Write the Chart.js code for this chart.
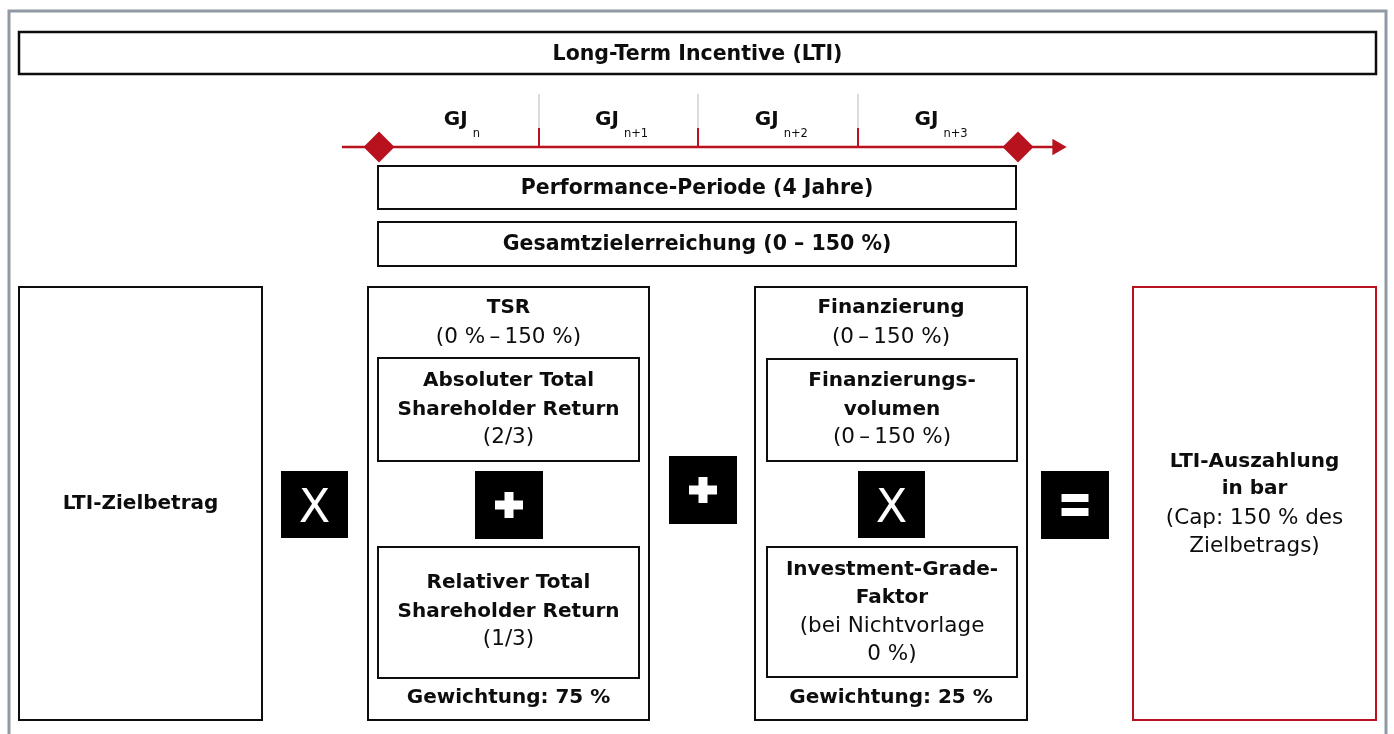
<!DOCTYPE html>
<html><head><meta charset="utf-8">
<script src="https://cdn.jsdelivr.net/npm/chart.js@4.4.1/dist/chart.umd.min.js"></script>
<style>html,body{margin:0;padding:0;background:#fff;overflow:hidden}canvas{display:block}</style>
</head><body><canvas id="c" width="1394" height="734"></canvas>
<script>
// ---------- content (data) ----------
const headerTitle = 'Long-Term Incentive (LTI)';
const yearPrefix = 'GJ';
const yearSubscripts = ['n', 'n+1', 'n+2', 'n+3'];
const periodMarkers = [0, 4];          // start / end of the 4-year period (years)
const yearBoundaries = [1, 2, 3];      // boundaries between fiscal years
const yearLabelCenters = [0.5, 1.5, 2.5, 3.5];
const periodLabel = 'Performance-Periode (4 Jahre)';
const achievementLabel = 'Gesamtzielerreichung (0 – 150 %)';
const targetLabel = ['LTI-Zielbetrag'];
const tsrHeading = ['TSR'];
const tsrRange = ['(0 %\u2009–\u2009150 %)'];
const tsrAbsolute = ['Absoluter Total', 'Shareholder Return'];
const tsrAbsoluteShare = ['(2/3)'];
const tsrRelative = ['Relativer Total', 'Shareholder Return'];
const tsrRelativeShare = ['(1/3)'];
const tsrWeight = ['Gewichtung: 75 %'];
const finHeading = ['Finanzierung'];
const finRange = ['(0\u2009–\u2009150 %)'];
const finVolume = ['Finanzierungs-', 'volumen'];
const finVolumeRange = ['(0\u2009–\u2009150 %)'];
const finFactor = ['Investment-Grade-', 'Faktor'];
const finFactorNote = ['(bei Nichtvorlage', '0 %)'];
const finWeight = ['Gewichtung: 25 %'];
const payoutLabel = ['LTI-Auszahlung', 'in bar'];
const payoutNote = ['(Cap: 150 % des', 'Zielbetrags)'];
const operatorKinds = ['times', 'plus', 'plus', 'times', 'equals'];

// ---------- layout & style (diagram units) ----------
const RED = '#b8121f', BLACK = '#0d0d0d', GRAY = '#8f9aa4', LIGHT = '#d6dde2';
const FONT = '"DejaVu Sans", sans-serif';
const YEAR_PX = 159.75, YEAR_ORIGIN = 379;
const LAYOUT = {
  frame: [9, 11, 1386, 800],
  header: { box: [19, 32, 1376, 74], base: [60] },
  timeline: { y: 147, lineFrom: -0.232, arrowAt: 4.245, tickTop: 94, tickMid: 128, labelBase: 125, subBase: 136.5 },
  period: { box: [378, 166, 1016, 209], base: [194] },
  achieve: { box: [378, 222, 1016, 266], base: [250] },
  target: { box: [19, 287, 262, 720], base: [509] },
  tsr: { box: [368, 287, 649, 720], head: [313], range: [343], weight: [703] },
  abs: { box: [378, 358, 639, 461], title: [386, 415], sub: [443] },
  rel: { box: [378, 547, 639, 678], title: [588, 617], sub: [645] },
  fin: { box: [755, 287, 1027, 720], head: [313], range: [343], weight: [703] },
  vol: { box: [767, 359, 1017, 461], title: [386, 415], sub: [443] },
  fac: { box: [767, 547, 1017, 677], title: [575, 603], sub: [632, 660] },
  payout: { box: [1133, 287, 1376, 720], title: [467, 494], sub: [524, 552] },
  ops: [[281, 471, 348, 538], [475, 471, 543, 539], [669, 456, 737, 524], [858, 471, 925, 538], [1041, 471, 1109, 539]]
};

const diagramPlugin = {
  id: 'diagram',
  beforeDatasetsDraw(chart) {
    const c = chart.ctx, sx = chart.scales.x, sy = chart.scales.y, sYr = chart.scales.xYear;
    const X = v => sx.getPixelForValue(v), Y = v => sy.getPixelForValue(v);
    c.save();
    c.fillStyle = '#fff';
    c.fillRect(0, 0, chart.width, chart.height);
    // outer frame
    const f = LAYOUT.frame;
    c.strokeStyle = GRAY; c.lineWidth = 3;
    c.strokeRect(X(f[0]), Y(f[1]), X(f[2]) - X(f[0]), Y(f[3]) - Y(f[1]));
    // year boundary ticks
    const t = LAYOUT.timeline;
    c.lineWidth = 2;
    yearBoundaries.forEach(b => {
      const px = Math.round(sYr.getPixelForValue(b));
      c.strokeStyle = LIGHT;
      c.beginPath(); c.moveTo(px, Y(t.tickTop)); c.lineTo(px, Y(t.tickMid)); c.stroke();
      c.strokeStyle = RED;
      c.beginPath(); c.moveTo(px, Y(t.tickMid)); c.lineTo(px, Y(t.y)); c.stroke();
    });
    c.restore();
  },
  afterDatasetsDraw(chart) {
    const c = chart.ctx, sx = chart.scales.x, sy = chart.scales.y, sYr = chart.scales.xYear;
    const X = v => sx.getPixelForValue(v), Y = v => sy.getPixelForValue(v);
    c.save();
    const box = (b, color, lw) => {
      c.strokeStyle = color; c.lineWidth = lw;
      c.strokeRect(X(b[0]), Y(b[1]), X(b[2]) - X(b[0]), Y(b[3]) - Y(b[1]));
    };
    const cx = b => (X(b[0]) + X(b[2])) / 2;
    const lines = (arr, x, bases, bold, size) => {
      c.font = (bold ? 'bold ' : '') + size + 'px ' + FONT;
      c.fillStyle = BLACK; c.textAlign = 'center'; c.textBaseline = 'alphabetic';
      arr.forEach((s, i) => c.fillText(s, x, Y(bases[i])));
    };
    const L = LAYOUT;
    // header
    box(L.header.box, BLACK, 2.5);
    lines([headerTitle], cx(L.header.box), L.header.base, true, 20.5);
    // year labels
    const t = L.timeline;
    yearSubscripts.forEach((sub, i) => {
      c.font = 'bold 20px ' + FONT;
      const w1 = c.measureText(yearPrefix).width;
      c.font = '11.5px ' + FONT;
      const w2 = c.measureText(sub).width;
      const gap = 5;
      const center = sYr.getPixelForValue(yearLabelCenters[i]) + 3;
      const left = center - (w1 + gap + w2) / 2;
      c.fillStyle = BLACK; c.textAlign = 'left'; c.textBaseline = 'alphabetic';
      c.font = 'bold 20px ' + FONT;
      c.fillText(yearPrefix, left, Y(t.labelBase));
      c.font = '11.5px ' + FONT;
      c.fillText(sub, left + w1 + gap, Y(t.subBase));
    });
    // period boxes
    box(L.period.box, BLACK, 2);
    lines([periodLabel], cx(L.period.box), L.period.base, true, 20.5);
    box(L.achieve.box, BLACK, 2);
    lines([achievementLabel], cx(L.achieve.box), L.achieve.base, true, 20.5);
    // target
    box(L.target.box, BLACK, 2);
    lines(targetLabel, cx(L.target.box), L.target.base, true, 20);
    // TSR
    box(L.tsr.box, BLACK, 2);
    lines(tsrHeading, cx(L.tsr.box), L.tsr.head, true, 20);
    lines(tsrRange, cx(L.tsr.box), L.tsr.range, false, 21.5);
    lines(tsrWeight, cx(L.tsr.box), L.tsr.weight, true, 20);
    box(L.abs.box, BLACK, 2);
    lines(tsrAbsolute, cx(L.abs.box), L.abs.title, true, 20);
    lines(tsrAbsoluteShare, cx(L.abs.box), L.abs.sub, false, 21.5);
    box(L.rel.box, BLACK, 2);
    lines(tsrRelative, cx(L.rel.box), L.rel.title, true, 20);
    lines(tsrRelativeShare, cx(L.rel.box), L.rel.sub, false, 21.5);
    // Finanzierung
    box(L.fin.box, BLACK, 2);
    lines(finHeading, cx(L.fin.box), L.fin.head, true, 20);
    lines(finRange, cx(L.fin.box), L.fin.range, false, 21.5);
    lines(finWeight, cx(L.fin.box), L.fin.weight, true, 20);
    box(L.vol.box, BLACK, 2);
    lines(finVolume, cx(L.vol.box), L.vol.title, true, 20);
    lines(finVolumeRange, cx(L.vol.box), L.vol.sub, false, 21.5);
    box(L.fac.box, BLACK, 2);
    lines(finFactor, cx(L.fac.box), L.fac.title, true, 20);
    lines(finFactorNote, cx(L.fac.box), L.fac.sub, false, 21.5);
    // payout
    box(L.payout.box, RED, 2);
    lines(payoutLabel, cx(L.payout.box), L.payout.title, true, 20);
    lines(payoutNote, cx(L.payout.box), L.payout.sub, false, 21.5);
    // operators
    operatorKinds.forEach((kind, i) => {
      const b = L.ops[i];
      const x0 = X(b[0]), y0 = Y(b[1]), x1 = X(b[2]), y1 = Y(b[3]);
      c.fillStyle = '#000';
      c.fillRect(x0, y0, x1 - x0, y1 - y0);
      const mx = (x0 + x1) / 2, my = (y0 + y1) / 2;
      c.fillStyle = '#fff';
      if (kind === 'plus') {
        c.fillRect(mx - 14, my - 4.5, 28, 9);
        c.fillRect(mx - 4.5, my - 13, 9, 26);
      } else if (kind === 'equals') {
        c.fillRect(mx - 13.5, my - 11, 27, 8);
        c.fillRect(mx - 13.5, my + 3, 27, 8);
      } else {
        c.font = '46px ' + FONT;
        c.textAlign = 'center'; c.textBaseline = 'alphabetic';
        c.fillText('X', mx, my + 17);
      }
    });
    c.restore();
  }
};

const tl = LAYOUT.timeline;
new Chart(document.getElementById('c'), {
  type: 'scatter',
  data: {
    datasets: [
      { type: 'line', xAxisID: 'xYear', yAxisID: 'y',
        data: [{ x: tl.lineFrom, y: tl.y }, { x: tl.arrowAt, y: tl.y }],
        borderColor: RED, borderWidth: 2.5, pointRadius: 0, fill: false },
      { xAxisID: 'xYear', yAxisID: 'y',
        data: periodMarkers.map(v => ({ x: v, y: tl.y })),
        pointStyle: 'rectRot', pointRadius: 15.5, pointBackgroundColor: RED, backgroundColor: RED, pointBorderWidth: 0 },
      { xAxisID: 'xYear', yAxisID: 'y',
        data: [{ x: tl.arrowAt, y: tl.y }],
        pointStyle: 'triangle', pointRotation: 90, pointRadius: 9.5, pointBackgroundColor: RED, backgroundColor: RED, pointBorderWidth: 0 }
    ]
  },
  options: {
    responsive: false, animation: false, events: [],
    layout: { padding: 0, autoPadding: false },
    plugins: { legend: { display: false }, tooltip: { enabled: false } },
    scales: {
      x: { type: 'linear', min: 0, max: 1394, display: false },
      xYear: { type: 'linear', axis: 'x', position: 'bottom', display: false,
               min: -YEAR_ORIGIN / YEAR_PX, max: (1394 - YEAR_ORIGIN) / YEAR_PX },
      y: { type: 'linear', min: 0, max: 734, reverse: true, display: false }
    }
  },
  plugins: [diagramPlugin]
});
</script>
</body></html>
